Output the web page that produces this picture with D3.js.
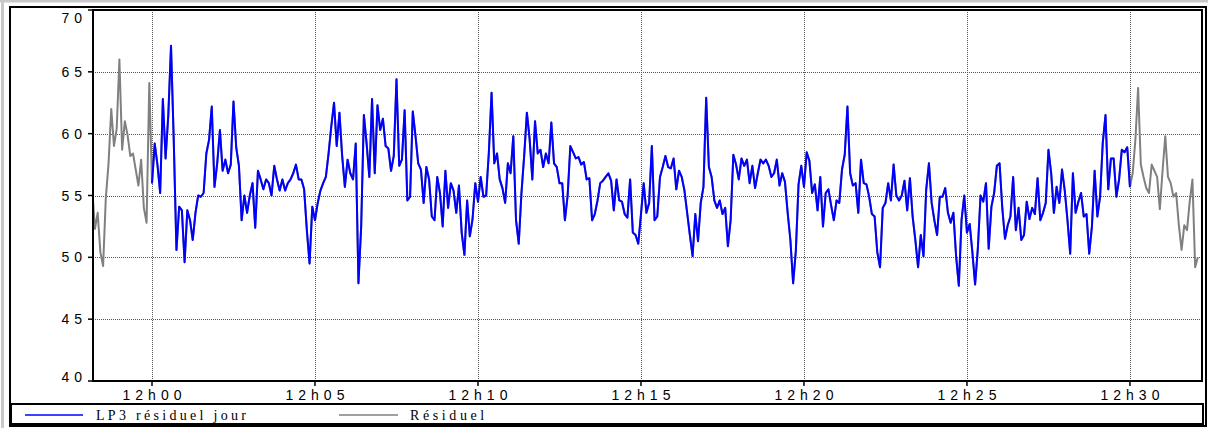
<!DOCTYPE html>
<html>
<head>
<meta charset="utf-8">
<script src="https://cdn.jsdelivr.net/npm/d3@7"></script>
<style>
  body { margin: 0; background: #fff; }
  svg { display: block; }
</style>
</head>
<body>
<div id="chart"></div>
<script>
// Données : un point toutes les 5 secondes
var pasSec = 5;
var debutJour = new Date(2000, 0, 1, 12, 0, 0);   // début de LP3 résiduel jour

// Résiduel avant la fenêtre jour (11h58m10s -> 11h59m55s)
var residuelAvant = [55.5, 52.3, 53.6, 50.4, 49.3, 54.8, 57.6, 62.0, 59.0, 60.4, 66.0, 58.7,
                     61.0, 59.9, 58.2, 58.4, 57.1, 55.8, 57.9, 54.0, 52.8, 64.1];

// LP3 résiduel jour (12h00m00s -> 12h30m00s), une ligne par minute
var lp3Jour = [
  56.0, 59.2, 57.5, 55.2, 62.8, 58.0, 61.5, 67.1, 59.5, 50.6, 54.1, 53.8,
  49.6, 53.8, 53.0, 51.4, 53.6, 55.0, 54.9, 55.2, 58.4, 59.5, 62.2, 55.7,
  57.6, 60.3, 57.0, 57.9, 56.8, 57.5, 62.6, 58.9, 57.4, 53.0, 55.0, 53.6,
  55.0, 56.0, 52.4, 57.0, 56.3, 55.5, 56.3, 56.0, 55.0, 57.4, 56.3, 55.4,
  56.3, 55.4, 56.0, 56.3, 56.8, 57.5, 56.3, 56.3, 55.5, 52.2, 49.5, 54.1,
  53.0, 54.4, 55.4, 56.0, 56.5, 58.4, 60.6, 62.5, 59.0, 61.7, 58.2, 55.7,
  57.9, 56.8, 56.3, 59.2, 47.9, 52.5, 61.5, 59.2, 56.5, 62.8, 56.8, 62.3,
  60.3, 61.2, 59.0, 58.8, 57.0, 58.2, 64.4, 57.4, 57.9, 61.9, 54.6, 54.9,
  61.8, 59.8, 57.6, 57.1, 54.4, 57.3, 56.3, 53.3, 53.0, 56.5, 55.2, 52.5,
  57.0, 54.0, 56.0, 55.4, 53.6, 55.8, 52.0, 50.2, 54.6, 51.7, 53.1, 56.0,
  54.5, 56.5, 54.9, 55.0, 58.5, 63.3, 57.6, 58.4, 56.3, 55.6, 54.4, 57.6,
  56.8, 59.8, 53.0, 51.1, 55.2, 58.2, 61.7, 59.6, 56.3, 61.0, 58.4, 58.7,
  57.3, 58.4, 57.6, 60.9, 57.6, 57.3, 56.0, 56.0, 53.0, 55.0, 59.0, 58.5,
  58.0, 58.1, 57.5, 57.7, 56.3, 56.4, 53.0, 53.5, 54.6, 56.0, 56.2, 56.5,
  56.8, 56.2, 53.8, 56.3, 54.6, 54.5, 53.5, 53.2, 56.3, 52.0, 51.8, 51.1,
  53.5, 56.0, 53.6, 54.4, 59.0, 53.0, 53.3, 56.5, 57.3, 58.2, 57.3, 57.2,
  58.0, 55.5, 57.0, 56.5, 55.4, 53.6, 51.8, 50.1, 53.5, 51.3, 54.4, 55.7,
  62.9, 57.3, 56.5, 54.6, 54.0, 54.6, 53.5, 54.0, 50.9, 53.0, 58.3, 57.5,
  56.3, 58.0, 57.4, 57.9, 56.0, 57.4, 55.6, 56.8, 57.9, 57.6, 57.9, 57.4,
  56.5, 56.8, 57.9, 55.8, 56.8, 56.1, 53.6, 51.4, 47.9, 50.5, 55.9, 57.4,
  55.7, 58.5, 57.8, 55.2, 55.9, 53.8, 56.5, 52.5, 55.2, 55.5, 54.2, 53.0,
  54.6, 54.4, 57.1, 58.3, 62.2, 56.8, 55.8, 56.0, 53.6, 57.9, 56.0, 55.9,
  54.9, 53.5, 53.3, 50.4, 49.2, 54.0, 54.4, 56.0, 54.6, 57.5, 55.0, 54.6,
  55.0, 56.2, 53.8, 56.4, 53.3, 51.4, 49.2, 51.8, 50.1, 55.5, 57.6, 54.4,
  53.0, 51.8, 54.9, 54.9, 55.6, 53.6, 52.8, 53.6, 50.1, 47.7, 53.0, 55.0,
  52.0, 52.7, 50.4, 47.8, 50.7, 55.0, 54.5, 56.0, 50.7, 54.1, 55.2, 57.4,
  57.6, 54.0, 51.5, 52.6, 53.3, 56.5, 52.2, 54.0, 51.4, 51.8, 54.5, 53.1,
  54.0, 53.5, 56.4, 53.0, 53.6, 54.4, 58.7, 56.8, 53.6, 55.7, 54.4, 57.1,
  55.4, 53.0, 50.3, 56.8, 53.6, 54.5, 55.2, 53.3, 53.5, 50.3, 52.5, 57.0,
  53.3, 54.9, 59.3, 61.5, 55.5, 58.0, 58.0, 54.9, 56.3, 58.7, 58.5, 58.9,
  55.7
];

// Résiduel après la fenêtre jour (12h30m05s -> 12h32m05s)
var residuelApres = [56.8, 59.5, 63.7, 57.5, 56.5, 55.6, 55.2, 57.5, 57.0, 56.5, 53.9, 57.0,
                     59.8, 56.5, 56.0, 54.9, 55.2, 52.6, 50.6, 52.6, 52.2, 54.5, 56.3, 49.2, 50.0];

var valeursY = [40, 45, 50, 55, 60, 65, 70];
var series = [
  { nom: "LP3 résiduel jour", couleur: "#0000ff" },
  { nom: "Résiduel", couleur: "#808080" }
];

// ---------------------------------------------------------------------------
var width = 1208;
var height = 428;
var plot = { left: 93, right: 1202, top: 10, bottom: 381 };

var svg = d3.select("#chart")
    .append("svg")
    .attr("width", width)
    .attr("height", height);

function temps(k) { return new Date(debutJour.getTime() + k * pasSec * 1000); }

var pointsJour = lp3Jour.map(function (v, k) { return { t: temps(k), v: v }; });
var pointsResiduel = residuelAvant.map(function (v, i) { return { t: temps(i - residuelAvant.length), v: v }; })
    .concat(pointsJour)
    .concat(residuelApres.map(function (v, j) { return { t: temps(lp3Jour.length + j), v: v }; }));

var x = d3.scaleTime()
    .domain([new Date(debutJour.getTime() - 108600), new Date(debutJour.getTime() + 1932600)])
    .range([plot.left, plot.right]);

var y = d3.scaleLinear()
    .domain([40, 70])
    .range([plot.bottom, plot.top]);

var ticksX = x.ticks(d3.timeMinute.every(5));

// outer light frame
svg.append("rect").attr("x", 0).attr("y", 0).attr("width", width).attr("height", 2.5).attr("fill", "#c8c8c8");
svg.append("rect").attr("x", 1).attr("y", 0).attr("width", 3).attr("height", height).attr("fill", "#c8c8c8");

// grid
var grille = svg.append("g")
    .attr("stroke", "#555")
    .attr("stroke-width", 1)
    .attr("stroke-dasharray", "1,1");

grille.selectAll("line.h")
    .data(valeursY.filter(function (d) { return d > 40 && d < 70; }))
    .enter().append("line")
    .attr("x1", plot.left).attr("x2", plot.right)
    .attr("y1", function (d) { return Math.round(y(d)) + 0.5; })
    .attr("y2", function (d) { return Math.round(y(d)) + 0.5; });

grille.selectAll("line.v")
    .data(ticksX)
    .enter().append("line")
    .attr("y1", plot.top).attr("y2", plot.bottom)
    .attr("x1", function (d) { return Math.round(x(d)) + 0.5; })
    .attr("x2", function (d) { return Math.round(x(d)) + 0.5; });

// lines
svg.append("clipPath").attr("id", "clip")
    .append("rect")
    .attr("x", plot.left).attr("y", plot.top)
    .attr("width", plot.right - plot.left).attr("height", plot.bottom - plot.top);

var ligne = d3.line()
    .x(function (d) { return x(d.t); })
    .y(function (d) { return y(d.v); });

svg.append("path")
    .datum(pointsResiduel)
    .attr("clip-path", "url(#clip)")
    .attr("fill", "none")
    .attr("stroke", series[1].couleur)
    .attr("stroke-width", 2)
    .attr("stroke-linejoin", "round")
    .attr("d", ligne);

svg.append("path")
    .datum(pointsJour)
    .attr("clip-path", "url(#clip)")
    .attr("fill", "none")
    .attr("stroke", series[0].couleur)
    .attr("stroke-width", 2)
    .attr("stroke-linejoin", "round")
    .attr("d", ligne);

// frames
svg.append("rect")
    .attr("x", 10).attr("y", 7)
    .attr("width", 1196).attr("height", 419)
    .attr("fill", "none").attr("stroke", "#000").attr("stroke-width", 2);

svg.append("rect")
    .attr("x", plot.left).attr("y", plot.top)
    .attr("width", plot.right - plot.left).attr("height", plot.bottom - plot.top)
    .attr("fill", "none").attr("stroke", "#000").attr("stroke-width", 2);

// axes
var axeY = svg.append("g");
axeY.selectAll("line")
    .data(valeursY)
    .enter().append("line")
    .attr("x1", plot.left - 5).attr("x2", plot.left)
    .attr("y1", function (d) { return y(d); })
    .attr("y2", function (d) { return y(d); })
    .attr("stroke", "#000").attr("stroke-width", 1.5);

axeY.selectAll("text")
    .data(valeursY)
    .enter().append("text")
    .attr("x", 87)
    .attr("y", function (d) { return Math.min(Math.max(y(d) + 5, 23), 381.5); })
    .attr("text-anchor", "end")
    .style("font-family", "'Liberation Sans', Arial, sans-serif")
    .style("font-size", "14px")
    .style("letter-spacing", "5px")
    .text(function (d) { return d; });

var fmt = d3.timeFormat("%Hh%M");
var axeX = svg.append("g");
axeX.selectAll("line")
    .data(ticksX)
    .enter().append("line")
    .attr("x1", function (d) { return x(d); })
    .attr("x2", function (d) { return x(d); })
    .attr("y1", plot.bottom).attr("y2", plot.bottom + 5)
    .attr("stroke", "#000").attr("stroke-width", 1.5);

axeX.selectAll("text")
    .data(ticksX)
    .enter().append("text")
    .attr("x", function (d) { return x(d) + 2.5; })
    .attr("y", 400)
    .attr("text-anchor", "middle")
    .style("font-family", "'Liberation Sans', Arial, sans-serif")
    .style("font-size", "14px")
    .style("letter-spacing", "5px")
    .text(fmt);

// legend
var legende = svg.append("g");
legende.append("rect")
    .attr("x", 11).attr("y", 404)
    .attr("width", 1192).attr("height", 20)
    .attr("fill", "#fff").attr("stroke", "#000").attr("stroke-width", 2);

var posLegende = [{ x1: 25, x2: 83, tx: 96 }, { x1: 339, x2: 398, tx: 410 }];
var items = legende.selectAll("g.item")
    .data(series)
    .enter().append("g");

items.append("line")
    .attr("x1", function (d, i) { return posLegende[i].x1; })
    .attr("x2", function (d, i) { return posLegende[i].x2; })
    .attr("y1", 415).attr("y2", 415)
    .attr("stroke", function (d) { return d.couleur; })
    .attr("stroke-width", 1.5);

items.append("text")
    .attr("x", function (d, i) { return posLegende[i].tx; })
    .attr("y", 420)
    .style("font-family", "'Liberation Serif', 'Times New Roman', serif")
    .style("font-size", "14px")
    .style("letter-spacing", function (d, i) { return i === 0 ? "3.3px" : "3.6px"; })
    .text(function (d) { return d.nom; });
</script>
</body>
</html>
